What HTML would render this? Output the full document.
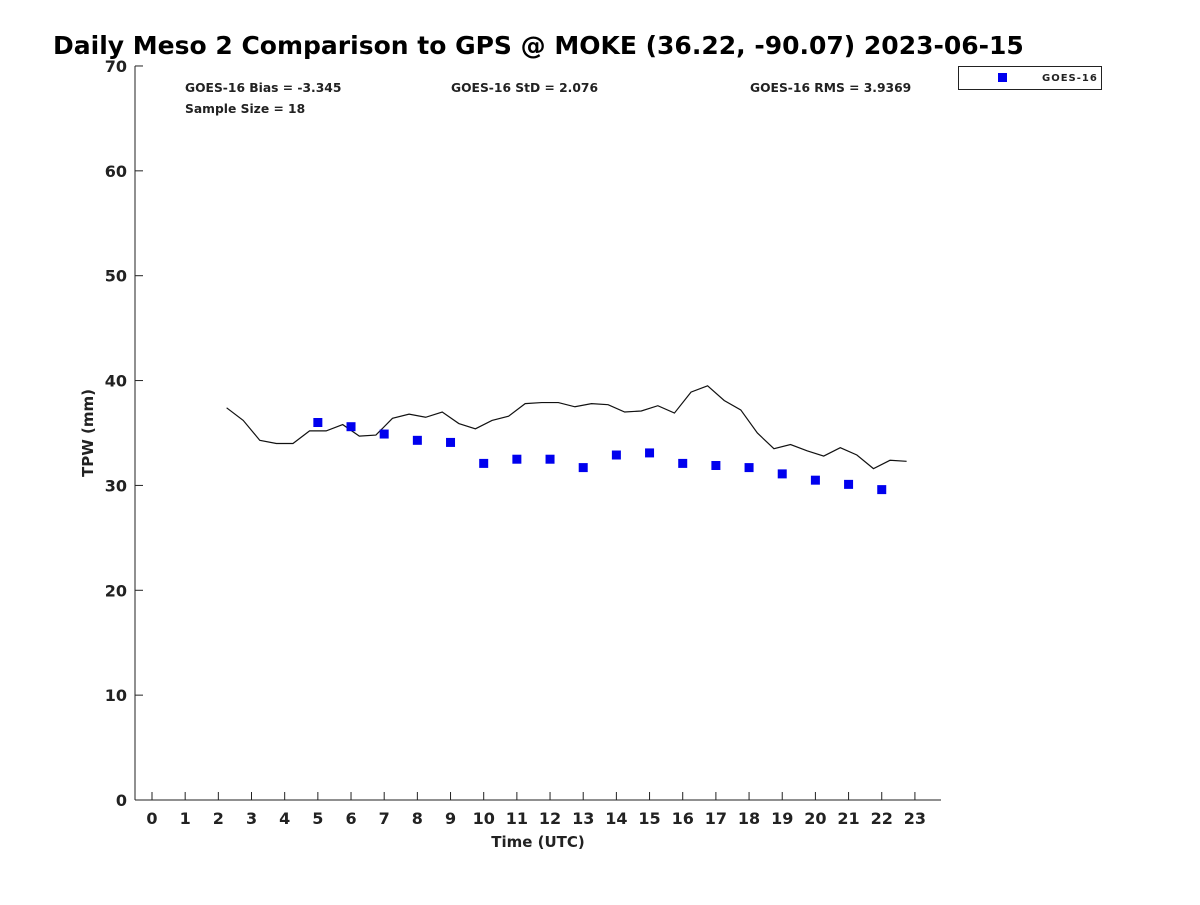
<!DOCTYPE html>
<html><head><meta charset="utf-8">
<style>
body{margin:0;background:#fff;}
svg text{font-family:"DejaVu Sans","Liberation Sans",sans-serif;font-weight:bold;fill:#222;}
</style></head>
<body>
<svg id="chart" width="1200" height="900" xmlns="http://www.w3.org/2000/svg">
<text x="53" y="54" font-size="25" style="fill:#000">Daily Meso 2 Comparison to GPS @ MOKE (36.22, -90.07) 2023-06-15</text>
<line x1="135" y1="66" x2="135" y2="800" stroke="#222"/>
<line x1="135" y1="800" x2="941" y2="800" stroke="#222"/>
<text x="185" y="92" font-size="12.3">GOES-16 Bias = -3.345</text>
<text x="451" y="92" font-size="12.3">GOES-16 StD = 2.076</text>
<text x="750" y="92" font-size="12.3">GOES-16 RMS = 3.9369</text>
<text x="185" y="113" font-size="12.3">Sample Size = 18</text>
<text transform="translate(93,433) rotate(-90)" text-anchor="middle" font-size="15">TPW (mm)</text>
<text x="538" y="847" text-anchor="middle" font-size="15">Time (UTC)</text>
<g>
<rect x="958.5" y="66.5" width="143" height="23" fill="#fff" stroke="#222"/>
<rect x="998" y="73" width="9" height="9" fill="#0000ee"/>
<text x="1042" y="81" font-size="10" letter-spacing="1">GOES-16</text>
</g>
<g id="ticks"></g>
<g id="marks"></g>
</svg>
<script>
const gpsTimes=[2.25,2.75,3.25,3.75,4.25,4.75,5.25,5.75,6.25,6.75,7.25,7.75,8.25,8.75,9.25,9.75,10.25,10.75,11.25,11.75,12.25,12.75,13.25,13.75,14.25,14.75,15.25,15.75,16.25,16.75,17.25,17.75,18.25,18.75,19.25,19.75,20.25,20.75,21.25,21.75,22.25,22.75];
const gpsValues=[37.4,36.2,34.3,34.0,34.0,35.2,35.2,35.8,34.7,34.8,36.4,36.8,36.5,37.0,35.9,35.4,36.2,36.6,37.8,37.9,37.9,37.5,37.8,37.7,37.0,37.1,37.6,36.9,38.9,39.5,38.1,37.2,35.0,33.5,33.9,33.3,32.8,33.6,32.9,31.6,32.4,32.3];
const goesTimes=[5,6,7,8,9,10,11,12,13,14,15,16,17,18,19,20,21,22];
const goesValues=[36.0,35.6,34.9,34.3,34.1,32.1,32.5,32.5,31.7,32.9,33.1,32.1,31.9,31.7,31.1,30.5,30.1,29.6];
const xTicks=[0,1,2,3,4,5,6,7,8,9,10,11,12,13,14,15,16,17,18,19,20,21,22,23];
const yTicks=[0,10,20,30,40,50,60,70];
const NS="http://www.w3.org/2000/svg";
const xS=t=>152+t*33.17;
const yS=v=>800-v*10.486;
const tk=document.getElementById('ticks'), mk=document.getElementById('marks');
function mkEl(tag,attrs,parent){const e=document.createElementNS(NS,tag);for(const k in attrs)e.setAttribute(k,attrs[k]);parent.appendChild(e);return e;}
xTicks.forEach(t=>{
  const l=mkEl('line',{x1:xS(t),x2:xS(t),y1:800,y2:792,stroke:'#222'},tk);
  
  
  const tx=mkEl('text',{x:xS(t),y:824,'text-anchor':'middle','font-size':16},tk);
  tx.textContent=t;
  
  
});
yTicks.forEach(v=>{
  const l=mkEl('line',{x1:135,x2:143,y1:yS(v),y2:yS(v),stroke:'#222'},tk);
  
  
  const tx=mkEl('text',{x:127,y:yS(v)+6,'text-anchor':'end','font-size':16},tk);
  tx.textContent=v;
  
  
});
const pts=gpsTimes.map((t,i)=>xS(t)+','+yS(gpsValues[i])).join(' ');
const pl=mkEl('polyline',{points:pts,fill:'none',stroke:'#111','stroke-width':1.2},mk);


goesTimes.forEach((t,i)=>{
  const r=mkEl('rect',{x:xS(t)-4.5,y:yS(goesValues[i])-4.5,width:9,height:9,fill:'#0000ee'},mk);
  
  
});
</script>
</body></html>
